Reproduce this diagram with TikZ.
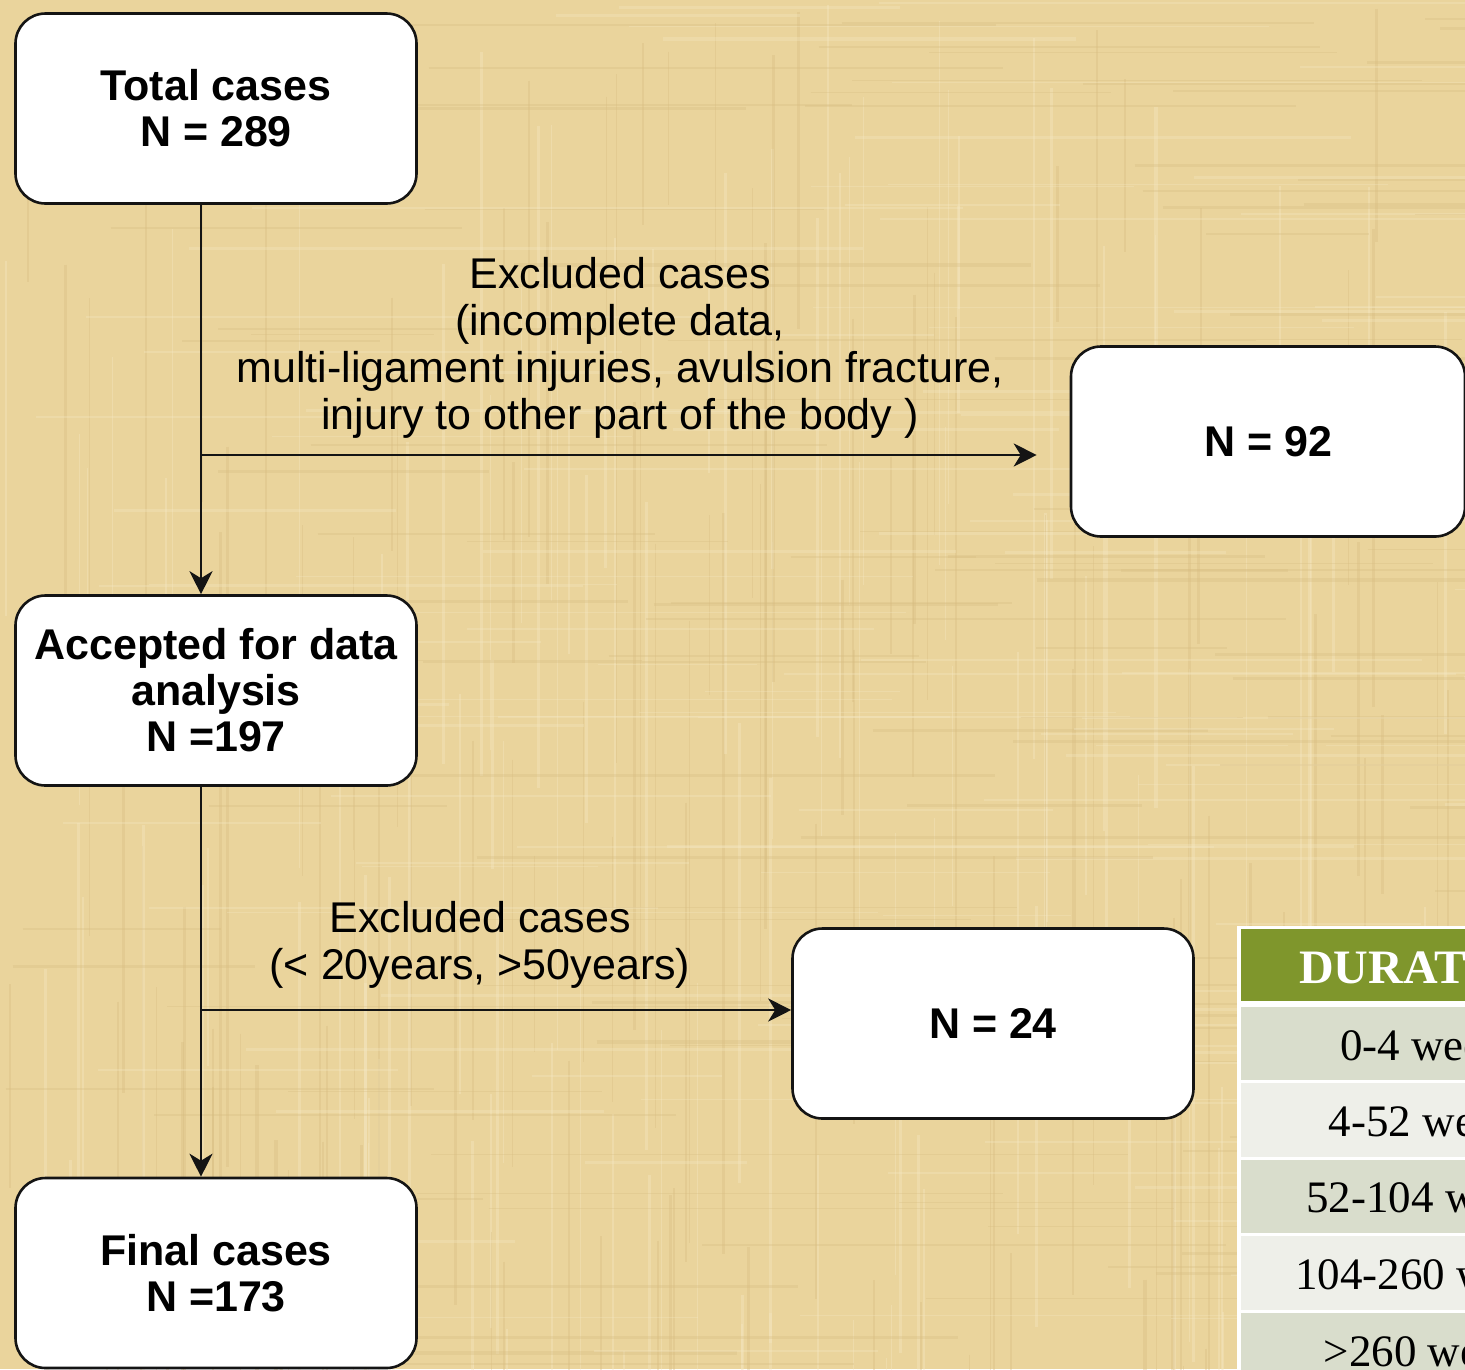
\documentclass[tikz,border=0pt]{standalone}
\usepackage{fontspec}
\setmainfont{Liberation Sans}
\newfontfamily\tabfont{Liberation Serif}
\usetikzlibrary{arrows.meta}
\definecolor{bgtan}{RGB}{234,212,156}
\definecolor{bgdark}{RGB}{214,188,128}
\definecolor{bglight}{RGB}{246,233,198}
\definecolor{olive}{RGB}{127,150,44}
\definecolor{rowdark}{RGB}{217,221,204}
\definecolor{rowlight}{RGB}{238,239,233}
\definecolor{linegray}{RGB}{20,20,20}
\tikzset{
  box/.style={draw=linegray, line width=2.6pt, fill=white, rounded corners=30pt,
    minimum width=401pt, minimum height=190pt, align=center, inner sep=0pt,
    font=\bfseries\fontsize{43}{46}\selectfont},
  flow/.style={draw=linegray, line width=2.6pt, -{Stealth[length=23pt,width=23pt,inset=7pt]}},
  lbl/.style={align=center, inner sep=0pt, font=\fontsize{43}{47}\selectfont},
  cell/.style={anchor=base, inner sep=0pt, font=\tabfont\fontsize{45}{47}\selectfont},
  hcell/.style={anchor=base, inner sep=0pt, text=white, font=\tabfont\bfseries\fontsize{48}{50}\selectfont},
}
\begin{document}
\begin{tikzpicture}[x=1pt,y=-1pt]
\useasboundingbox (0,0) rectangle (1465,1369);
\begin{scope}
\clip (0,0) rectangle (1465,1369);
% background texture
\fill[bgtan] (0,0) rectangle (1465,1369);
\pgfmathsetseed{7}
\foreach \i in {1,...,240}{
  \pgfmathsetmacro{\xx}{rnd*1465}
  \pgfmathsetmacro{\ya}{rnd*1369}
  \pgfmathsetmacro{\yb}{\ya+150+rnd*600}
  \pgfmathsetmacro{\ww}{0.8+rnd*2.5}
  \pgfmathtruncatemacro{\cc}{mod(\i,2)}
  \ifnum\cc=0 \def\col{bgdark}\else\def\col{bglight}\fi
  \draw[\col, opacity=0.35, line width=\ww pt] (\xx,\ya) -- (\xx,\yb);
}
\foreach \i in {1,...,240}{
  \pgfmathsetmacro{\yy}{rnd*1369}
  \pgfmathsetmacro{\xa}{rnd*1465}
  \pgfmathsetmacro{\xb}{\xa+150+rnd*600}
  \pgfmathsetmacro{\ww}{0.8+rnd*2.5}
  \pgfmathtruncatemacro{\cc}{mod(\i,2)}
  \ifnum\cc=0 \def\col{bgdark}\else\def\col{bglight}\fi
  \draw[\col, opacity=0.3, line width=\ww pt] (\xa,\yy) -- (\xb,\yy);
}
% table (cut off at the right edge, as in the reference)
\fill[white] (1237,926) rectangle (1470,1375);
\fill[olive] (1241,929) rectangle (1470,1001);
\fill[rowdark] (1241,1007) rectangle (1470,1080);
\fill[rowlight] (1241,1083) rectangle (1470,1157);
\fill[rowdark] (1241,1160) rectangle (1470,1233);
\fill[rowlight] (1241,1236) rectangle (1470,1310);
\fill[rowdark] (1241,1313) rectangle (1470,1375);
\node[hcell] (hdr) at (1428,983) {DURATION};
\node[cell] (r1) at (1432,1060) {0-4 weeks};
\node[cell] (r2) at (1432,1136) {4-52 weeks};
\node[cell] (r3) at (1432,1212) {52-104 weeks};
\node[cell] (r4) at (1432,1289) {104-260 weeks};
\node[cell] (r5) at (1432,1366) {>260 weeks};
% boxes
\node[box] (total) at (216,108.5) {Total cases\\N = 289};
\node[box] (acc) at (216,690.5) {Accepted for data\\analysis\\N =197};
\node[box] (final) at (216,1273) {Final cases\\N =173};
\node[box, minimum width=394pt] (n92) at (1268,441.5) {N = 92};
\node[box] (n24) at (993,1023.5) {N = 24};
% labels
\node[lbl] (ex1) at (620,348) {Excluded cases\\(incomplete data,\\multi-ligament injuries, avulsion fracture,\\injury to other part of the body )};
\node[lbl] (ex2) at (480,945) {Excluded cases\\(< 20years, >50years)};
% connectors
\coordinate (j1) at (201,455);
\coordinate (j2) at (201,1010);
\draw[flow] (total.south -| j1) -- (acc.north -| j1);
\draw[flow, shorten >=33pt] (j1) -- (j1 -| n92.west);
\draw[flow] (acc.south -| j2) -- (final.north -| j2);
\draw[flow] (j2) -- (j2 -| n24.west);
\end{scope}
\end{tikzpicture}
\end{document}
